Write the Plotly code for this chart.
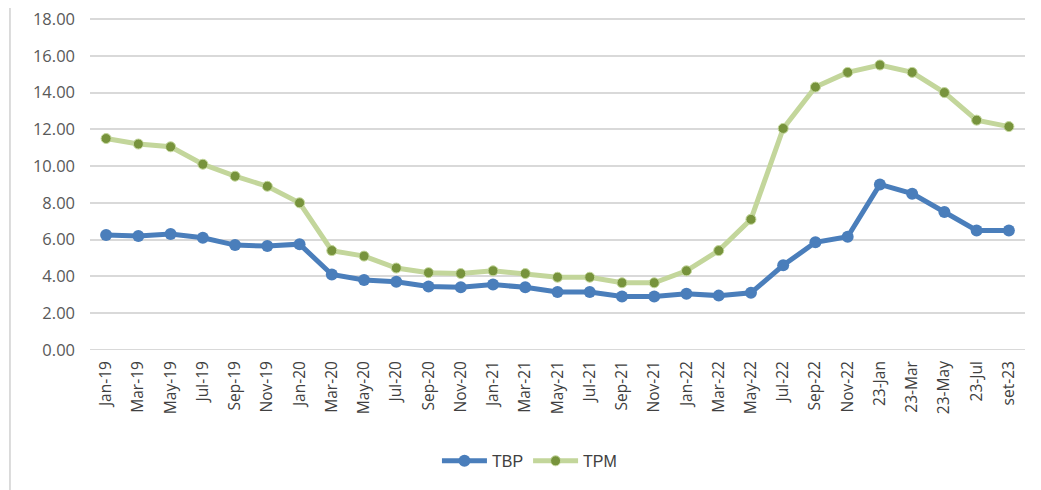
import plotly.graph_objects as go

categories = ["Jan-19", "Mar-19", "May-19", "Jul-19", "Sep-19", "Nov-19", "Jan-20", "Mar-20",
              "May-20", "Jul-20", "Sep-20", "Nov-20", "Jan-21", "Mar-21", "May-21", "Jul-21",
              "Sep-21", "Nov-21", "Jan-22", "Mar-22", "May-22", "Jul-22", "Sep-22", "Nov-22",
              "23-Jan", "23-Mar", "23-May", "23-Jul", "set-23"]
tbp = [6.25, 6.2, 6.3, 6.1, 5.7, 5.65, 5.75, 4.1, 3.8, 3.7, 3.45, 3.4, 3.55, 3.4, 3.15, 3.15,
       2.9, 2.9, 3.05, 2.95, 3.1, 4.6, 5.85, 6.15, 9.0, 8.5, 7.5, 6.5, 6.5]
tpm = [11.5, 11.2, 11.05, 10.1, 9.45, 8.9, 8.0, 5.4, 5.1, 4.45, 4.2, 4.15, 4.3, 4.15, 3.95, 3.95,
       3.65, 3.65, 4.3, 5.4, 7.1, 12.05, 14.3, 15.1, 15.5, 15.1, 14.0, 12.5, 12.15]
y_ticks = [0, 2, 4, 6, 8, 10, 12, 14, 16, 18]

fig = go.Figure()
fig.add_trace(go.Scatter(x=categories, y=tbp, name="TBP", mode="lines+markers",
                         line=dict(color="#4A7EBB", width=5),
                         marker=dict(color="#4A7EBB", size=12)))
fig.add_trace(go.Scatter(x=categories, y=tpm, name="TPM", mode="lines+markers",
                         line=dict(color="#C3D69B", width=5),
                         marker=dict(color="#77933C", size=10, line=dict(color="#C3D69B", width=1))))

fig.update_layout(
    width=1041, height=490,
    margin=dict(l=82, r=24, t=10, b=148, autoexpand=False),
    paper_bgcolor="white", plot_bgcolor="white",
    font=dict(family="Liberation Sans Narrow, Liberation Sans, sans-serif", color="#595959", size=14),
    xaxis=dict(type="category", range=[-0.5, 28.5], tickangle=-90, showgrid=False, automargin=False,
               showline=False, ticks="", ticklabelstandoff=7,
               tickfont=dict(size=15.5, family="Open Sans", color="#404040")),
    yaxis=dict(range=[-0.01, 18.06], tickvals=y_ticks, ticktext=[f"{v:.2f}" for v in y_ticks],
               automargin=False, ticklabeloverflow="allow", ticklabelstandoff=14,
               showgrid=True, gridcolor="#D9D9D9", gridwidth=1.5, zeroline=False,
               ticks="", ticklen=0, tickfont=dict(size=16.5, family="Open Sans", color="#595959")),
    legend=dict(orientation="h", x=0.47, xanchor="center", y=-0.334, yanchor="middle",
                font=dict(size=16, color="#404040", family="Liberation Sans Narrow, Liberation Sans"),
                itemwidth=45, traceorder="normal"),
    showlegend=True,
)
fig.add_hline(y=0, line=dict(color="#D9D9D9", width=1.5))
fig.add_hline(y=18, line=dict(color="#D9D9D9", width=1.5))
fig.add_shape(type="line", xref="paper", yref="paper", x0=-0.0856, x1=-0.0856, y0=-0.5, y1=1.05,
              line=dict(color="#D0D0D0", width=1.5))

fig.write_html("out.html")
